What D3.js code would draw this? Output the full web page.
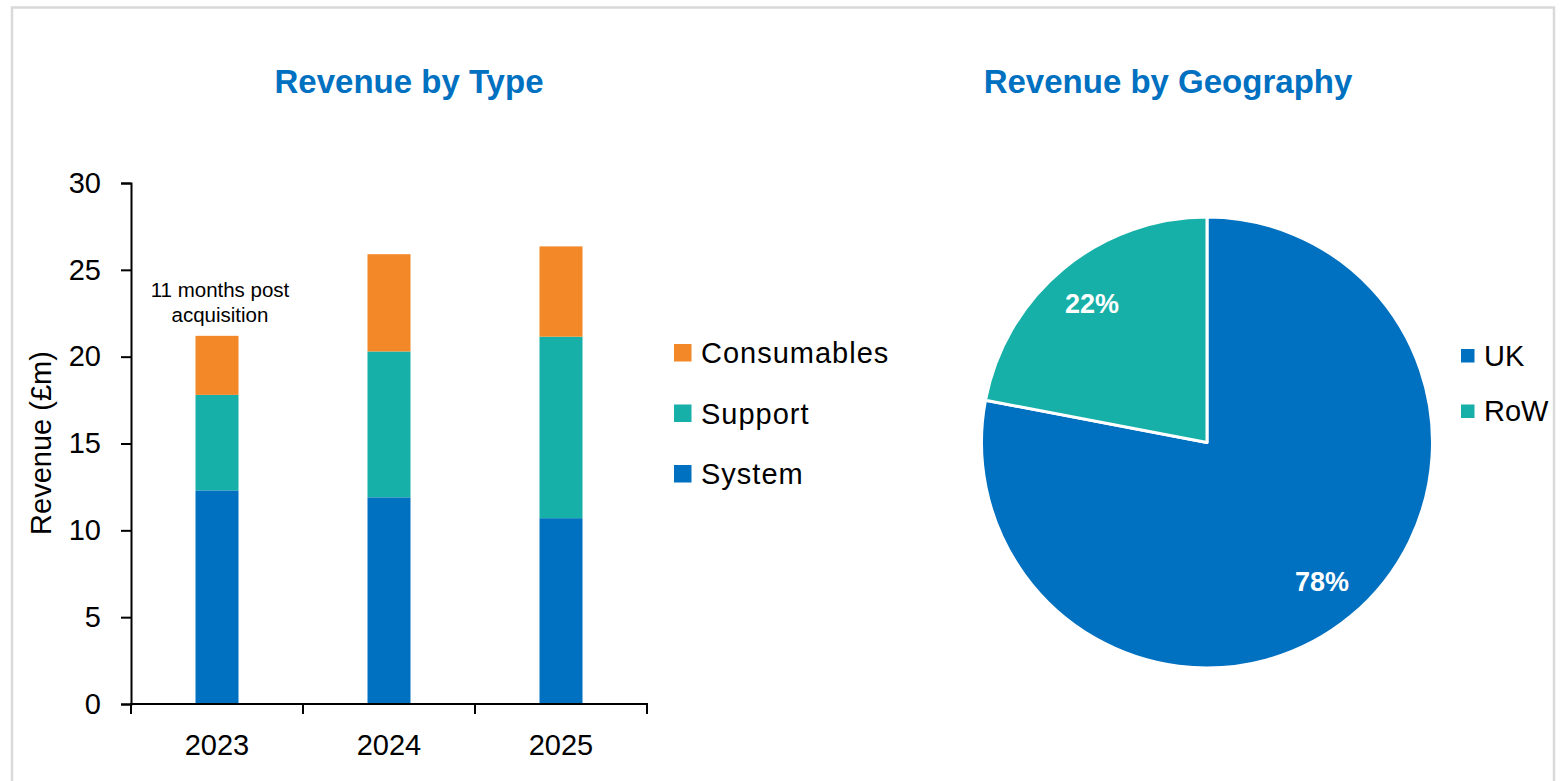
<!DOCTYPE html>
<html>
<head>
<meta charset="utf-8">
<script src="https://cdn.jsdelivr.net/npm/d3@7"></script>
<style>
  html, body { margin: 0; padding: 0; background: #fff; }
  svg { display: block; font-family: "Liberation Sans", Arial, sans-serif; }
</style>
</head>
<body>
<svg id="chart" width="1564" height="781"></svg>
<script>
// Revenue by type (£m)
const years = ["2023", "2024", "2025"];
const seriesNames = ["System", "Support", "Consumables"];
const systemValues = [12.3, 11.9, 10.7];
const supportValues = [5.5, 8.4, 10.45];
const consumablesValues = [3.4, 5.6, 5.2];
const yTicks = [0, 5, 10, 15, 20, 25, 30];
const yearNote = ["11 months post", "acquisition"];

// Revenue by geography (%)
const regions = ["UK", "RoW"];
const regionShares = [78, 22];

const colors = {
  System: "#0070C0",
  Support: "#17B0A8",
  Consumables: "#F28828",
  UK: "#0070C0",
  RoW: "#17B0A8"
};
const titleColor = "#0070C0";

const svg = d3.select("#chart");

// outer frame
svg.append("rect")
  .attr("x", 12).attr("y", 7.5)
  .attr("width", 1542).attr("height", 800)
  .attr("fill", "none")
  .attr("stroke", "#d9d9d9")
  .attr("stroke-width", 2.5);

// ---------- Stacked column chart ----------
const rows = years.map((y, i) => ({
  year: y,
  System: systemValues[i],
  Support: supportValues[i],
  Consumables: consumablesValues[i]
}));
const stacked = d3.stack().keys(seriesNames)(rows);

const x = d3.scaleBand().domain(years).range([131, 647]).paddingInner(0).paddingOuter(0);
const y = d3.scaleLinear().domain([0, 30]).range([704, 183]);
const barW = x.bandwidth() * 0.25;

svg.append("text")
  .attr("x", 409).attr("y", 93)
  .attr("text-anchor", "middle")
  .attr("fill", titleColor)
  .attr("font-weight", "bold")
  .attr("font-size", 33)
  .text("Revenue by Type");

const bars = svg.append("g");
stacked.forEach(layer => {
  bars.selectAll(null)
    .data(layer)
    .join("rect")
    .attr("x", d => x(d.data.year) + (x.bandwidth() - barW) / 2)
    .attr("y", d => y(d[1]))
    .attr("width", barW)
    .attr("height", d => y(d[0]) - y(d[1]))
    .attr("fill", colors[layer.key]);
});

// y axis
const yAxis = svg.append("g")
  .attr("transform", "translate(131,0)")
  .call(d3.axisLeft(y).tickValues(yTicks).tickSize(10).tickPadding(20));
yAxis.select(".domain").attr("stroke", "#000").attr("stroke-width", 2);
yAxis.selectAll(".tick line").attr("stroke", "#000").attr("stroke-width", 2);
yAxis.selectAll(".tick text")
  .attr("font-size", 29)
  .attr("fill", "#000")
  .attr("font-family", "Liberation Sans, Arial, sans-serif");

// x axis with boundary ticks between categories
const xAxisG = svg.append("g").attr("transform", "translate(0,704)");
xAxisG.append("line")
  .attr("x1", 130).attr("x2", 648)
  .attr("stroke", "#000").attr("stroke-width", 2);
const boundaries = years.map(d => x(d)).concat([x(years[years.length - 1]) + x.bandwidth()]);
xAxisG.selectAll(null)
  .data(boundaries)
  .join("line")
  .attr("x1", d => d).attr("x2", d => d)
  .attr("y1", 0).attr("y2", 10)
  .attr("stroke", "#000").attr("stroke-width", 2);
xAxisG.selectAll(null)
  .data(years)
  .join("text")
  .attr("x", d => x(d) + x.bandwidth() / 2)
  .attr("y", 51)
  .attr("text-anchor", "middle")
  .attr("font-size", 29)
  .attr("fill", "#000")
  .text(d => d);

// y axis title
svg.append("text")
  .attr("transform", "translate(51,443) rotate(-90)")
  .attr("text-anchor", "middle")
  .attr("font-size", 29)
  .attr("fill", "#000")
  .text("Revenue (£m)");

// note above the first column
svg.append("g")
  .selectAll("text")
  .data(yearNote)
  .join("text")
  .attr("x", x(years[0]) + x.bandwidth() / 2 + 3)
  .attr("y", (d, i) => 297 + i * 25)
  .attr("text-anchor", "middle")
  .attr("font-size", 20.5)
  .attr("fill", "#000")
  .text(d => d);

// legend (top-down order reversed from stack)
const legendItems = seriesNames.slice().reverse();
const leg = svg.append("g");
legendItems.forEach((name, i) => {
  const cy = 353 + i * 60.5;
  leg.append("rect")
    .attr("x", 674).attr("y", cy - 9)
    .attr("width", 17.5).attr("height", 17.5)
    .attr("fill", colors[name]);
  leg.append("text")
    .attr("x", 701).attr("y", cy + 10)
    .attr("font-size", 29)
    .attr("letter-spacing", 1)
    .attr("fill", "#000")
    .text(name);
});

// ---------- Pie chart ----------
svg.append("text")
  .attr("x", 1168).attr("y", 93)
  .attr("text-anchor", "middle")
  .attr("fill", titleColor)
  .attr("font-weight", "bold")
  .attr("font-size", 33)
  .text("Revenue by Geography");

const pieData = regions.map((r, i) => ({ region: r, share: regionShares[i] }));
const pie = d3.pie().value(d => d.share).sort(null);
const radius = 225.5;
const arc = d3.arc().innerRadius(0).outerRadius(radius);
const labelArc = d3.arc().innerRadius(radius * 0.8).outerRadius(radius * 0.8);

const pieG = svg.append("g").attr("transform", "translate(1207,442.5)");
const arcs = pie(pieData);
pieG.selectAll("path")
  .data(arcs)
  .join("path")
  .attr("d", arc)
  .attr("fill", d => colors[d.data.region])
  .attr("stroke", "#fff")
  .attr("stroke-width", 3)
  .attr("stroke-linejoin", "round");

pieG.selectAll("text")
  .data(arcs)
  .join("text")
  .attr("transform", d => {
    const [cx, cy] = labelArc.centroid(d);
    return `translate(${cx},${cy})`;
  })
  .attr("text-anchor", "middle")
  .attr("dy", "0.36em")
  .attr("font-size", 27)
  .attr("font-weight", "bold")
  .attr("fill", "#fff")
  .text(d => d.data.share + "%");

const pieLeg = svg.append("g");
regions.forEach((name, i) => {
  const cy = 355.5 + i * 55.5;
  pieLeg.append("rect")
    .attr("x", 1461).attr("y", cy - 6.5)
    .attr("width", 13.5).attr("height", 13.5)
    .attr("fill", colors[name]);
  pieLeg.append("text")
    .attr("x", 1484).attr("y", cy + 10)
    .attr("font-size", 29)
    .attr("fill", "#000")
    .text(name);
});
</script>
</body>
</html>
